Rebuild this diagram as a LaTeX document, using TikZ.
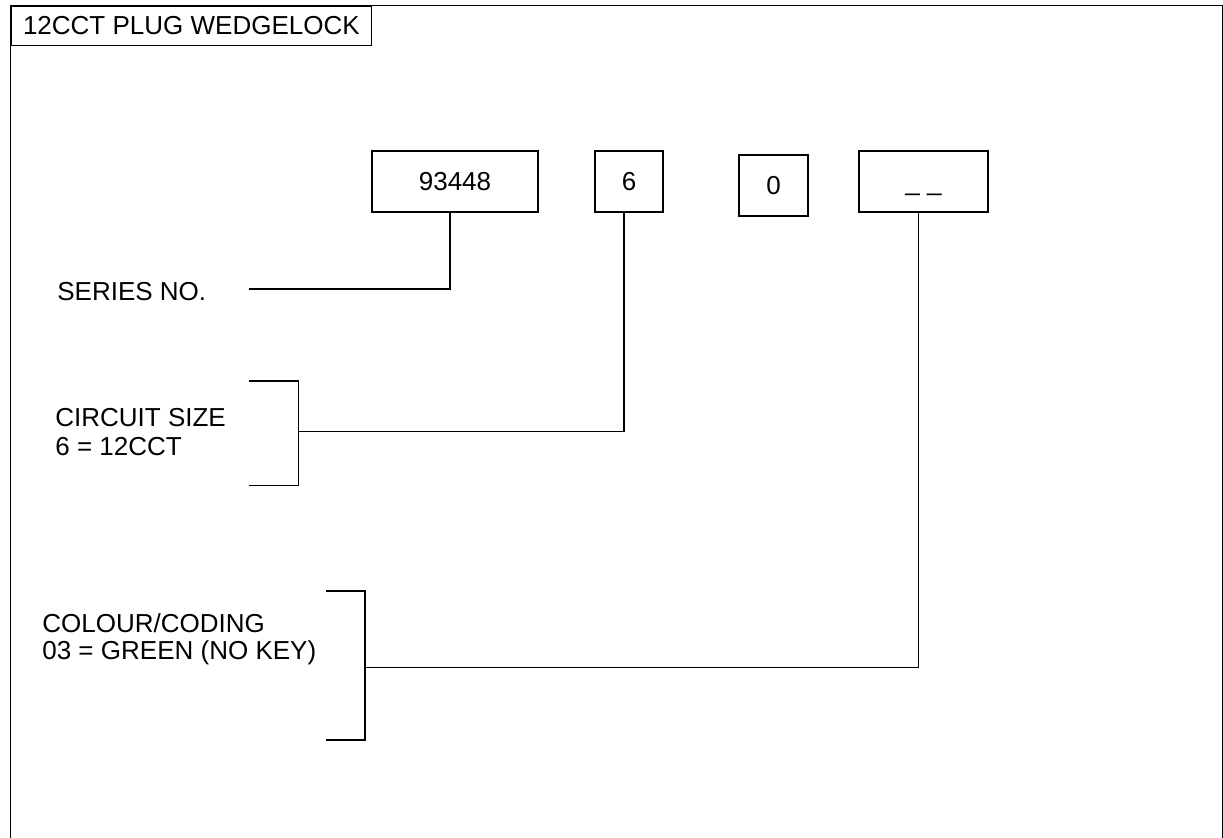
\documentclass[tikz,border=0pt]{standalone}
\usepackage{fontspec}
\setmainfont{Liberation Sans}
\usetikzlibrary{positioning}

\begin{document}
\begin{tikzpicture}[
  font=\fontsize{14.8}{16.5}\selectfont,
  frame/.style={draw, line width=1.1pt},
  partbox/.style={draw, line width=1pt, minimum height=1.21cm,
                  text height=1.02em, text depth=0pt, inner sep=0pt},
  lbl/.style={inner sep=0pt, align=left},
  link/.style={draw, line width=1.1pt},
]
\useasboundingbox (0,0) rectangle (24.46,-16.74);

% ── Outer frame and title ─────────────────────────────────────────────
\draw[frame] (0.21,-17) -- (0.21,-0.11) -- (24.45,-0.11) -- (24.45,-17);
\node[draw, line width=1pt, minimum width=7.2cm, minimum height=0.78cm,
      inner sep=0pt, anchor=north west] (title) at (0.21,-0.11) {12CCT PLUG WEDGELOCK};

% ── Part number boxes ─────────────────────────────────────────────────
\node[partbox, minimum width=3.33cm] (ser)  at (9.10,-3.63)  {93448};
\node[partbox, minimum width=1.37cm] (circ) at (12.58,-3.63) {6};
\node[partbox, minimum width=1.37cm, minimum height=1.22cm] (zero) at (15.47,-3.71) {0};
\node[partbox, minimum width=2.59cm] (col)  at (18.47,-3.63) {\_ \_};

% ── Labels ────────────────────────────────────────────────────────────
\node[lbl, anchor=base west] (serlbl) at (1.14,-6.0) {SERIES NO.};
\node[lbl, anchor=north west] (cirlbl) at (1.10,-8.16) {CIRCUIT SIZE\\6 = 12CCT};
\node[lbl, anchor=north west, font=\fontsize{14.8}{15.4}\selectfont]
  (collbl) at (0.84,-12.26) {COLOUR/CODING\\03 = GREEN (NO KEY)};

% ── Brackets ──────────────────────────────────────────────────────────
\draw[link] (4.98,-7.62) -- (5.97,-7.62) -- (5.97,-9.71) -- (4.98,-9.71);
\draw[link] (6.52,-11.82) -- (7.30,-11.82) -- (7.30,-14.80) -- (6.52,-14.80);

\coordinate (serend) at (4.98,-5.78);
\coordinate (cirmid) at (5.97,-8.63);
\coordinate (colmid) at (7.30,-13.35);

% ── Leaders ───────────────────────────────────────────────────────────
\draw[link] ([xshift=-0.1cm]ser.south)  |- (serend);
\draw[link] ([xshift=-0.1cm]circ.south) |- (cirmid);
\draw[link] ([xshift=-0.1cm]col.south)  |- (colmid);

\end{tikzpicture}
\end{document}
